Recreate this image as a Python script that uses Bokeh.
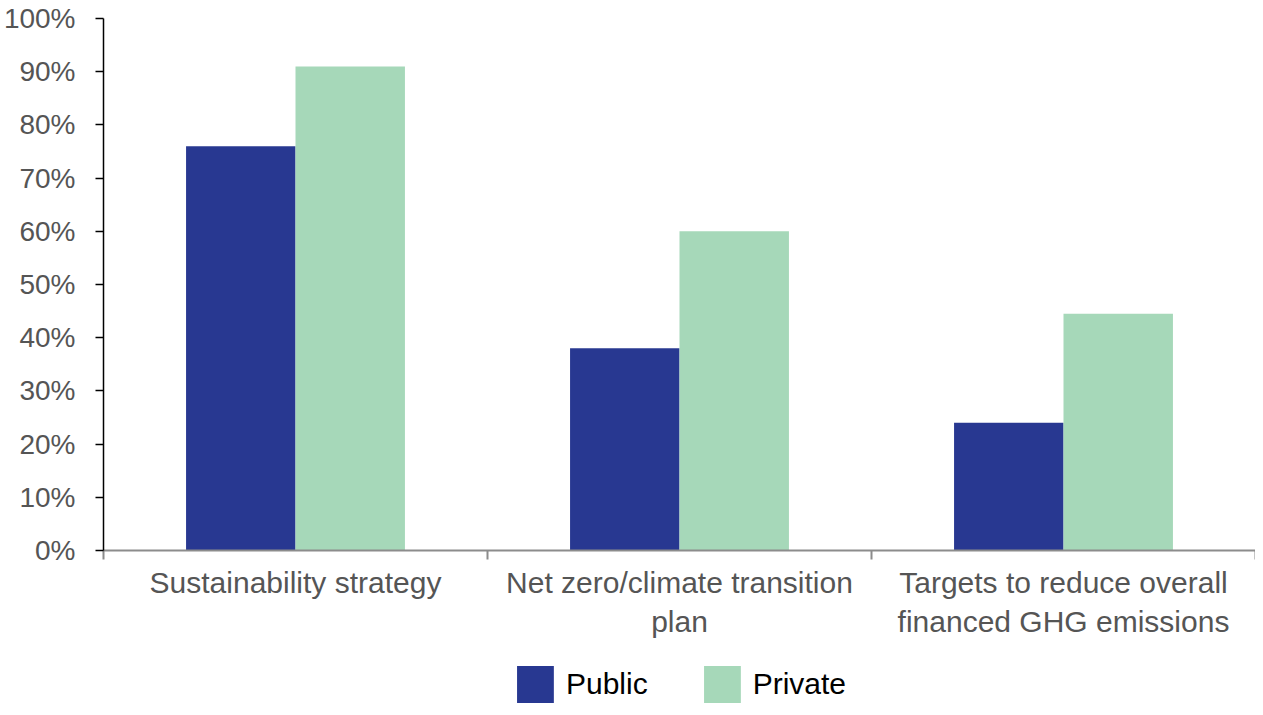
from bokeh.plotting import figure
from bokeh.layouts import column
from bokeh.models import (FactorRange, Range1d, LinearAxis, FixedTicker,
                          Legend, LegendItem, ColumnDataSource)
from bokeh.transform import dodge
from bokeh.embed import file_html
from bokeh.resources import INLINE

categories = ["Sustainability strategy",
              "Net zero/climate transition\nplan",
              "Targets to reduce overall\nfinanced GHG emissions"]
public = [76, 38, 24]
private = [91, 60, 44.5]
y_ticks = [0, 10, 20, 30, 40, 50, 60, 70, 80, 90, 100]
series = ["Public", "Private"]
colors = ["#283891", "#a6d8b9"]

FONT = "Liberation Sans"
GRAY = "#555555"
LEFT = 98

src = ColumnDataSource(dict(cat=categories, public=public, private=private))

p = figure(width=1255, height=652, output_backend="svg", toolbar_location=None,
           x_range=FactorRange(*categories, range_padding=0),
           y_range=Range1d(0, 100), x_axis_location=None,
           min_border_left=LEFT, min_border_top=18, min_border_right=0,
           min_border_bottom=102)
p.outline_line_color = None
p.xgrid.grid_line_color = None
p.ygrid.grid_line_color = None

r1 = p.vbar(x=dodge("cat", -0.1425, range=p.x_range), top="public", width=0.285,
            source=src, fill_color=colors[0], line_color=None)
r2 = p.vbar(x=dodge("cat", 0.1425, range=p.x_range), top="private", width=0.285,
            source=src, fill_color=colors[1], line_color=None)

# y axis
ya = p.yaxis[0]
ya.ticker = FixedTicker(ticks=y_ticks)
ya.major_label_overrides = {t: f"{t}%" for t in y_ticks}
ya.axis_line_color = "black"
ya.axis_line_width = 1.5
ya.major_tick_line_color = "black"
ya.major_tick_line_width = 1.5
ya.major_tick_out = 8
ya.major_tick_in = 0
ya.minor_tick_line_color = None
ya.major_label_standoff = 20
ya.major_label_text_font = FONT
ya.major_label_text_font_size = "28px"
ya.major_label_text_color = GRAY

# x axis: labels at category centres (synthetic coords), separators at boundaries
n = len(categories)
centers = [i + 0.5 for i in range(n)]
xa = LinearAxis(ticker=FixedTicker(ticks=centers, minor_ticks=list(range(n + 1))))
xa.major_label_overrides = {c: lab for c, lab in zip(centers, categories)}
xa.axis_line_color = "#8c8c8c"
xa.axis_line_width = 2
xa.major_tick_line_color = None
xa.major_tick_out = 0
xa.major_tick_in = 0
xa.minor_tick_line_color = "#8c8c8c"
xa.minor_tick_line_width = 2
xa.minor_tick_out = 9
xa.minor_tick_in = 0
xa.major_label_standoff = 6
xa.major_label_text_font = FONT
xa.major_label_text_font_size = "30px"
xa.major_label_text_color = GRAY
p.add_layout(xa, "below")

# legend strip under the chart (zero-height placeholder bars carry the swatches)
p2 = figure(width=1255, height=55, output_backend="svg", toolbar_location=None,
            x_range=Range1d(0, 1), y_range=Range1d(0, 1),
            x_axis_location=None, y_axis_location=None,
            min_border_left=LEFT, min_border_top=0, min_border_right=0,
            min_border_bottom=0)
p2.outline_line_color = None
p2.xgrid.grid_line_color = None
p2.ygrid.grid_line_color = None
items = []
for name, col in zip(series, colors):
    holder = ColumnDataSource(dict(x=[0.5], top=[0]))
    r = p2.vbar(x="x", top="top", width=0.1, source=holder,
                fill_color=col, line_color=None)
    items.append(LegendItem(label=name, renderers=[r]))

legend = Legend(items=items, orientation="horizontal", location="bottom_center",
                glyph_width=46, glyph_height=46, label_standoff=8, spacing=51,
                label_text_font=FONT, label_text_font_size="30px",
                label_text_color="black", border_line_color=None,
                background_fill_alpha=0, padding=0, margin=0)
p2.add_layout(legend, "center")

open("out.html", "w").write(file_html(column(p, p2, spacing=0), INLINE))
